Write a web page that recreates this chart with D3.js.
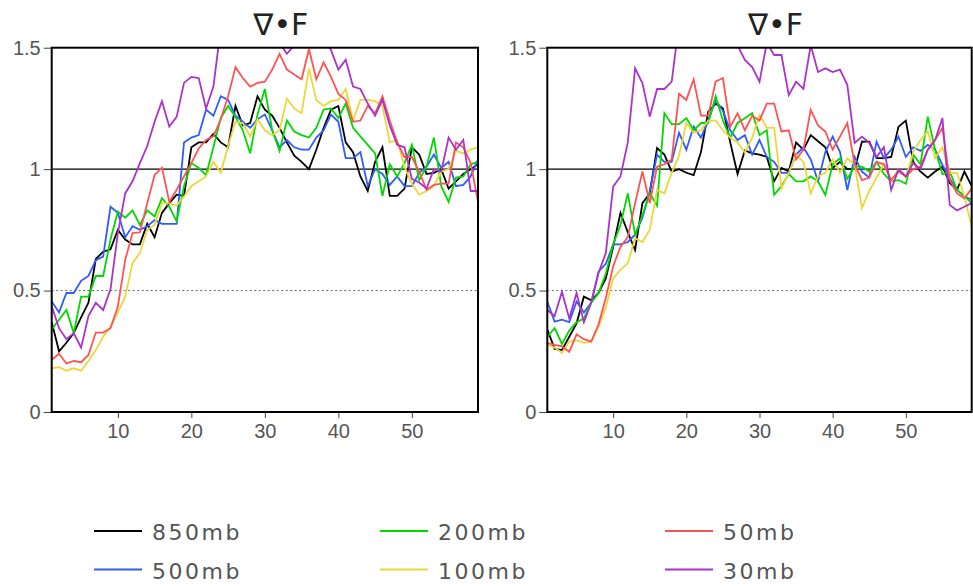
<!DOCTYPE html>
<html>
<head>
<meta charset="utf-8">
<script src="https://cdn.jsdelivr.net/npm/d3@7"></script>
<style>
  body { margin: 0; background: #fff; }
  svg { display: block; font-family: "DejaVu Sans", sans-serif; }
  .tick text { fill: #555; font-size: 20px; }
  .legend text { fill: #555; font-size: 22px; letter-spacing: 2.5px; }
</style>
</head>
<body>
<div id="chart"></div>
<script>
// x index along each panel (1..59)
const steps = d3.range(1, 60);
const levels = ["850mb", "500mb", "200mb", "100mb", "50mb", "30mb"];
const colors = ["#000000", "#2f5cff", "#00d800", "#ead838", "#ff5252", "#aa33cc"];
const yTicks = [0, 0.5, 1, 1.5];
const yTickLabels = ["0", "0.5", "1", "1.5"];
const xTicks = [10, 20, 30, 40, 50];
const title = "\u2207\u2022F";

// left panel
const left850 = [0.37,0.25,0.285,0.325,0.39,0.45,0.63,0.66,0.67,0.75,0.71,0.69,0.69,0.775,0.72,0.82,0.86,0.895,0.89,1.09,
  1.11,1.11,1.145,1.11,1.09,1.26,1.18,1.19,1.30,1.245,1.22,1.17,1.11,1.055,1.03,1.0,1.08,1.17,1.245,1.26,
  1.11,1.07,0.97,0.91,1.03,1.09,0.89,0.89,0.92,1.09,1.06,0.98,0.985,1.0,0.92,0.95,0.98,1.0,1.02];
const left500 = [0.455,0.41,0.49,0.49,0.54,0.56,0.625,0.64,0.845,0.82,0.72,0.765,0.75,0.765,0.79,0.775,0.775,0.775,1.11,1.13,
  1.14,1.245,1.22,1.30,1.285,1.22,1.195,1.17,1.205,1.225,1.16,1.09,1.12,1.09,1.08,1.08,1.13,1.16,1.225,1.195,
  1.045,1.045,1.07,0.93,1.0,0.98,0.935,0.97,0.93,0.93,0.985,1.01,1.06,1.005,1.03,0.93,0.935,0.97,1.04];
const left200 = [0.34,0.38,0.42,0.325,0.475,0.475,0.56,0.56,0.71,0.825,0.80,0.83,0.77,0.83,0.805,0.88,0.845,0.785,0.93,1.025,
  1.005,0.975,1.09,1.21,1.26,1.215,1.16,1.065,1.225,1.33,1.16,1.075,1.20,1.155,1.14,1.13,1.17,1.245,1.25,1.21,
  1.27,1.17,1.135,1.10,1.065,0.89,1.02,0.97,1.025,1.10,0.955,1.01,1.13,0.93,0.865,0.965,0.97,1.02,1.03];
const left100 = [0.18,0.185,0.17,0.18,0.17,0.21,0.255,0.31,0.35,0.41,0.475,0.613,0.655,0.75,0.77,0.86,0.86,0.85,0.887,0.93,
  0.95,0.97,1.03,0.985,1.095,1.195,1.19,1.135,1.205,1.16,1.14,1.16,1.29,1.25,1.23,1.415,1.285,1.26,1.28,1.285,
  1.33,1.20,1.285,1.285,1.28,1.26,1.11,1.12,1.01,0.94,0.895,0.91,0.93,0.99,1.0,1.075,1.065,1.08,1.09];
const left50 = [0.215,0.24,0.20,0.21,0.205,0.235,0.327,0.327,0.345,0.434,0.626,0.737,0.74,0.86,0.976,1.006,0.865,0.915,0.97,1.025,
  1.085,1.12,1.135,1.205,1.30,1.42,1.375,1.34,1.355,1.36,1.41,1.475,1.41,1.39,1.37,1.495,1.37,1.44,1.38,1.31,
  1.285,1.195,1.20,1.26,1.23,1.30,1.20,1.11,1.05,1.05,0.99,0.915,0.935,0.94,0.94,1.11,1.09,1.025,0.865];
const left30 = [0.435,0.345,0.30,0.325,0.265,0.395,0.45,0.42,0.505,0.735,0.90,0.95,1.025,1.095,1.195,1.28,1.175,1.215,1.355,1.38,
  1.375,1.25,1.34,1.58,1.68,1.75,1.78,1.75,1.70,1.64,1.58,1.52,1.475,1.51,1.57,1.62,1.60,1.55,1.49,1.41,
  1.45,1.34,1.33,1.27,1.22,1.285,1.18,1.10,1.09,0.96,0.945,0.92,1.0,0.99,1.13,1.08,1.12,0.91,0.91];

// right panel
const right850 = [0.34,0.26,0.255,0.31,0.365,0.475,0.46,0.49,0.55,0.68,0.82,0.74,0.667,0.86,0.90,1.087,1.06,0.99,1.0,0.985,
  0.975,1.07,1.237,1.27,1.25,1.11,0.98,1.077,1.065,1.06,1.05,0.95,1.005,0.99,1.11,1.08,1.14,1.115,1.09,1.005,
  1.03,1.0,1.0,1.113,1.113,1.045,1.045,1.05,1.175,1.20,1.03,0.99,0.965,0.99,1.01,0.943,0.915,0.99,0.93];
const right500 = [0.454,0.372,0.38,0.37,0.455,0.41,0.45,0.578,0.61,0.69,0.69,0.70,0.73,0.80,0.91,1.06,1.03,1.03,1.15,1.08,
  1.175,1.13,1.20,1.285,1.24,1.16,1.12,1.14,1.06,1.12,1.05,1.03,0.985,0.985,1.06,1.09,1.04,0.95,1.07,1.134,
  1.07,0.914,1.05,0.99,0.965,1.113,1.045,1.08,1.134,1.05,1.09,1.075,1.10,1.08,1.017,0.96,0.914,0.887,0.875];
const right200 = [0.31,0.345,0.28,0.335,0.37,0.385,0.45,0.49,0.57,0.69,0.77,0.90,0.73,0.81,0.90,0.85,1.23,1.185,1.185,1.21,
  1.16,1.19,1.19,1.30,1.20,1.13,1.19,1.21,1.23,1.14,1.16,0.894,0.93,0.98,0.95,0.95,0.97,0.95,0.894,1.02,
  1.045,0.96,1.01,1.01,0.99,1.03,0.98,0.95,0.955,0.94,1.06,1.02,1.216,1.08,0.98,0.99,0.914,0.89,0.86];
const right100 = [0.276,0.265,0.243,0.29,0.295,0.285,0.29,0.35,0.43,0.55,0.585,0.613,0.716,0.70,0.75,0.914,0.90,0.985,1.055,1.19,
  1.15,1.16,1.20,1.20,1.16,1.13,1.11,1.068,1.13,1.223,1.17,1.17,0.92,0.985,1.06,1.03,0.90,0.97,0.985,1.04,
  0.985,1.045,1.02,0.84,0.91,0.965,1.02,0.95,1.0,0.965,1.07,1.12,1.155,1.045,1.09,0.985,0.985,0.887,0.763];
const right50 = [0.284,0.276,0.27,0.248,0.32,0.30,0.29,0.36,0.47,0.60,0.68,0.72,0.86,0.99,0.86,1.01,1.02,1.04,1.31,1.285,
  1.37,1.22,1.22,1.36,1.375,1.175,1.23,1.16,1.22,1.20,1.27,1.27,1.155,1.16,1.04,1.08,1.244,1.18,1.155,1.08,
  1.134,1.19,1.02,0.955,0.965,1.03,1.02,0.955,0.99,0.97,1.0,1.01,1.08,1.12,1.17,0.955,0.90,0.88,0.92];
const right30 = [0.42,0.395,0.495,0.385,0.49,0.37,0.45,0.572,0.655,0.928,0.97,1.11,1.415,1.354,1.216,1.33,1.33,1.36,1.60,1.72,
  1.80,1.85,1.80,1.75,1.68,1.58,1.51,1.45,1.42,1.36,1.52,1.47,1.47,1.305,1.36,1.33,1.51,1.40,1.415,1.40,
  1.41,1.347,1.108,1.134,1.108,1.05,1.09,0.914,1.0,0.97,1.025,1.0,1.08,1.12,1.21,0.852,0.83,0.845,0.86];

const leftSeries = [left850, left500, left200, left100, left50, left30];
const rightSeries = [right850, right500, right200, right100, right50, right30];

const width = 973, height = 586;
const plotTop = 47.7, plotBottom = 412;

const svg = d3.select("#chart").append("svg")
  .attr("width", width)
  .attr("height", height);

svg.append("rect").attr("width", width).attr("height", height).attr("fill", "#fff");

const yScale = d3.scaleLinear().domain([0, 1.5]).range([plotBottom, plotTop]);

function drawPanel(series, x0, x1, id) {
  const xScale = d3.scaleLinear().domain([1, 59]).range([x0, x1]);
  const g = svg.append("g");

  g.append("clipPath").attr("id", "clip" + id)
    .append("rect")
    .attr("x", x0).attr("y", plotTop)
    .attr("width", x1 - x0).attr("height", plotBottom - plotTop);

  // reference lines at 1 and 0.5
  g.append("line")
    .attr("x1", x0).attr("x2", x1)
    .attr("y1", yScale(1)).attr("y2", yScale(1))
    .attr("stroke", "#000").attr("stroke-width", 1.2);
  g.append("line")
    .attr("x1", x0).attr("x2", x1)
    .attr("y1", yScale(0.5)).attr("y2", yScale(0.5))
    .attr("stroke", "#666").attr("stroke-width", 1)
    .attr("stroke-dasharray", "2,2.5");

  const line = d3.line()
    .x((d, i) => xScale(steps[i]))
    .y(d => yScale(d));

  g.append("g")
    .attr("clip-path", `url(#clip${id})`)
    .selectAll("path")
    .data(series)
    .enter()
    .append("path")
    .attr("d", d => line(d))
    .attr("fill", "none")
    .attr("stroke", (d, i) => colors[i])
    .attr("stroke-width", 1.8);

  const yAxis = d3.axisLeft(yScale)
    .tickValues(yTicks)
    .tickFormat((d, i) => yTickLabels[i])
    .tickSize(8)
    .tickPadding(3);
  const xAxis = d3.axisBottom(xScale)
    .tickValues(xTicks)
    .tickSize(6)
    .tickPadding(6);

  g.append("g")
    .attr("transform", `translate(${x0},0)`)
    .call(yAxis)
    .call(a => a.select(".domain").remove())
    .call(a => a.selectAll(".tick line").attr("stroke", "#444"));

  g.append("g")
    .attr("transform", `translate(0,${plotBottom})`)
    .call(xAxis)
    .call(a => a.select(".domain").remove())
    .call(a => a.selectAll(".tick line").attr("stroke", "#444"));

  // frame
  g.append("rect")
    .attr("x", x0).attr("y", plotTop)
    .attr("width", x1 - x0).attr("height", plotBottom - plotTop)
    .attr("fill", "none")
    .attr("stroke", "#000")
    .attr("stroke-width", 2);

  g.append("text")
    .attr("x", (x0 + x1) / 2 + 16)
    .attr("y", 35)
    .attr("text-anchor", "middle")
    .attr("font-size", 30)
    .attr("fill", "#222")
    .text(title);
}

drawPanel(leftSeries, 51.7, 478, "L");
drawPanel(rightSeries, 547.3, 971.7, "R");

// legend, 3 columns x 2 rows (column-major)
const legendCols = [94, 380, 665];
const legendRows = [531, 569.5];
const legend = svg.append("g").attr("class", "legend");
levels.forEach((name, i) => {
  const cx = legendCols[Math.floor(i / 2)];
  const cy = legendRows[i % 2];
  legend.append("line")
    .attr("x1", cx).attr("x2", cx + 48)
    .attr("y1", cy).attr("y2", cy)
    .attr("stroke", colors[i])
    .attr("stroke-width", 2);
  legend.append("text")
    .attr("x", cx + 58)
    .attr("y", cy + 9)
    .text(name);
});
</script>
</body>
</html>
